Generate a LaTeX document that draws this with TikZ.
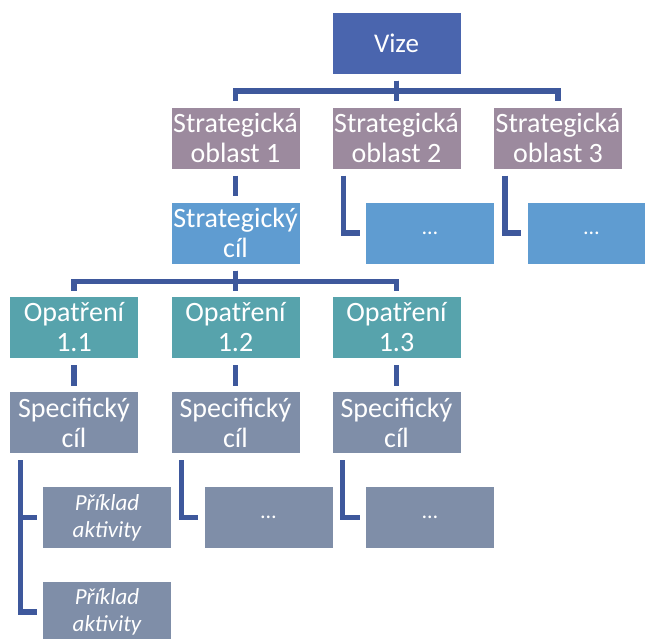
\documentclass[tikz,border=0pt]{standalone}
\usepackage{fontspec}
\setmainfont{Carlito}
\definecolor{cvize}{HTML}{4A65AE}
\definecolor{cso}{HTML}{9C8A9E}
\definecolor{csc}{HTML}{5F9CD1}
\definecolor{cop}{HTML}{57A3AC}
\definecolor{csp}{HTML}{7F8EA8}
\definecolor{cline}{HTML}{3E589C}
\tikzset{
  box/.style={rectangle, inner sep=0pt, minimum width=128pt, minimum height=61pt,
    text=white, align=center, font=\fontsize{28}{30}\selectfont},
  actbox/.style={box, font=\fontsize{23}{27}\selectfont\itshape},
  dotbox/.style={box, font=\fontsize{22}{24}\selectfont},
  conn/.style={draw=cline, line width=5.5pt, line join=miter, shorten <=7pt, shorten >=6pt},
}
\begin{document}
\begin{tikzpicture}[x=1pt,y=-1pt]
\useasboundingbox (0,0) rectangle (645,638);
% level 0
\node[box, fill=cvize, font=\fontsize{27}{30}\selectfont] (vize) at (396.5,43) {Vize};
% level 1
\node[box, fill=cso] (so1) at (235.5,138) {Strategická\\oblast 1};
\node[box, fill=cso] (so2) at (396.5,138) {Strategická\\oblast 2};
\node[box, fill=cso] (so3) at (558,138) {Strategická\\oblast 3};
% level 2
\node[box, fill=csc] (sc) at (235.5,233) {Strategický\\cíl};
\node[dotbox, fill=csc] (d2) at (430,233) {…};
\node[dotbox, fill=csc] (d3) at (591.5,233) {…};
% level 3
\node[box, fill=cop] (op1) at (74,327.5) {Opatření\\1.1};
\node[box, fill=cop] (op2) at (235.5,327.5) {Opatření\\1.2};
\node[box, fill=cop] (op3) at (396.5,327.5) {Opatření\\1.3};
% level 4
\node[box, fill=csp] (sp1) at (74,422.5) {Specifický\\cíl};
\node[box, fill=csp] (sp2) at (235.5,422.5) {Specifický\\cíl};
\node[box, fill=csp] (sp3) at (396.5,422.5) {Specifický\\cíl};
% level 5
\node[actbox, fill=csp] (a1) at (107,517.5) {Příklad\\aktivity};
\node[actbox, fill=csp] (a2) at (107,612) {Příklad\\aktivity};
\node[dotbox, fill=csp] (e2) at (268.5,517.5) {…};
\node[dotbox, fill=csp] (e3) at (430,517.5) {…};
% connectors
\draw[conn] (vize.south) -- ++(0,17.5) -| (so1.north);
\draw[conn] (vize.south) -- (so2.north);
\draw[conn] (vize.south) -- ++(0,17.5) -| (so3.north);
\draw[conn] (so1.south) -- (sc.north);
\draw[conn, shorten <=0pt] ([xshift=11pt,yshift=-7pt]so2.south west) |- (d2.west);
\draw[conn, shorten <=0pt] ([xshift=11pt,yshift=-7pt]so3.south west) |- (d3.west);
\draw[conn] (sc.south) -- ++(0,18) -| (op1.north);
\draw[conn] (sc.south) -- (op2.north);
\draw[conn] (sc.south) -- ++(0,18) -| (op3.north);
\draw[conn] (op1.south) -- (sp1.north);
\draw[conn] (op2.south) -- (sp2.north);
\draw[conn] (op3.south) -- (sp3.north);
\draw[conn, shorten <=0pt] ([xshift=10.5pt,yshift=-7pt]sp1.south west) |- (a1.west);
\draw[conn, shorten <=0pt] ([xshift=10.5pt,yshift=-7pt]sp1.south west) |- (a2.west);
\draw[conn, shorten <=0pt] ([xshift=10pt,yshift=-7pt]sp2.south west) |- (e2.west);
\draw[conn, shorten <=0pt] ([xshift=10pt,yshift=-7pt]sp3.south west) |- (e3.west);
\end{tikzpicture}
\end{document}
